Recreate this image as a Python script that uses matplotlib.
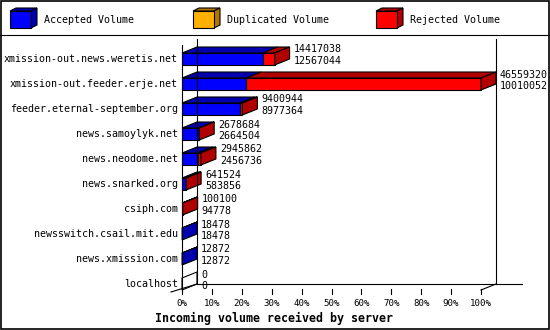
import matplotlib
matplotlib.use("Agg")
import matplotlib.pyplot as plt
from matplotlib.patches import Polygon, Rectangle
from matplotlib.lines import Line2D
from matplotlib.transforms import Affine2D

# ---------------- data ----------------
hosts = [
    "xmission-out.news.weretis.net",
    "xmission-out.feeder.erje.net",
    "feeder.eternal-september.org",
    "news.samoylyk.net",
    "news.neodome.net",
    "news.snarked.org",
    "csiph.com",
    "newsswitch.csail.mit.edu",
    "news.xmission.com",
    "localhost",
]
offered = [14417038, 46559320, 9400944, 2678684, 2945862, 641524, 100100, 18478, 12872, 0]
accepted = [12567044, 10010052, 8977364, 2664504, 2456736, 583856, 94778, 18478, 12872, 0]
duplicated = [0, 0, 0, 0, 0, 0, 0, 0, 0, 0]
tick_labels = ["0%", "10%", "20%", "30%", "40%", "50%", "60%", "70%", "80%", "90%", "100%"]
series_names = ["Accepted Volume", "Duplicated Volume", "Rejected Volume"]

# ---------------- style ----------------
FRONT = {"acc": "#0000ff", "dup": "#ffb000", "rej": "#ff0000"}
DARK = {"acc": "#0000b0", "dup": "#b07800", "rej": "#b00000"}
MONO = "DejaVu Sans Mono"
LW = 0.8

W, H = 550, 330
fig = plt.figure(figsize=(W / 100, H / 100), dpi=100)
ax = fig.add_axes([0, 0, 1, 1])
ax.axis("off")

# data scale: x in percent, y in row index
X0PX, XSCALE = 182.0, 2.99      # px of 0%, px per percent
Y0PX, YSCALE = 59.0, 25.0       # px of row 0, px per row
ax.set_xlim((0 - X0PX) / XSCALE, (W - X0PX) / XSCALE)
ax.set_ylim((H - Y0PX) / YSCALE, (0 - Y0PX) / YSCALE)

DX = 15 / XSCALE      # depth in percent units
DY = -6 / YSCALE      # depth in row units
HH = 0.24             # half bar height (rows)

pix = Affine2D().scale(1 / W, -1 / H).translate(0, 1) + fig.transFigure

def px2d(x, y):
    return ((x - X0PX) / XSCALE, (y - Y0PX) / YSCALE)

# ---------------- frame / axes ----------------
def dline(p, q, **kw):
    ax.add_line(Line2D([p[0], q[0]], [p[1], q[1]], color="black", lw=LW, **kw))

top_front = px2d(0, 45)[1]
bot_front = 9 + HH
bot_back = bot_front + DY
top_back = top_front + DY
dline((0, top_front), (0, bot_front))                 # front left axis
dline((DX, top_back), (DX, bot_back))                 # back left axis
dline((100 + DX, top_back), (100 + DX, bot_back))     # back right wall
dline((DX, bot_back), (px2d(522, 0)[0], bot_back))    # back floor line
dline((px2d(171, 0)[0], bot_front + 0.08), (DX, bot_back))  # left floor edge
dline((100, bot_front), (100 + DX, bot_back))         # right floor edge

for k, lab in enumerate(tick_labels):
    xv = k * 10
    dline((xv, bot_front - 0.04), (xv, bot_front + 0.14))
    ax.text(xv, px2d(0, 303)[1], lab, ha="center", va="center",
            fontsize=6.6, family=MONO)

ax.text(px2d(274, 0)[0], px2d(0, 318)[1], "Incoming volume received by server",
        ha="center", va="center", fontsize=8.4, family=MONO, fontweight="bold")

# ---------------- bars ----------------
vmax = max(offered)

def face(pts, fc):
    ax.add_patch(Polygon(pts, closed=True, facecolor=fc, edgecolor="black",
                         lw=LW, joinstyle="miter"))

for i, name in enumerate(hosts):
    acc = accepted[i] / vmax * 100
    dup = duplicated[i] / vmax * 100
    tot = offered[i] / vmax * 100
    segs = [("acc", 0, acc), ("dup", acc, acc + dup), ("rej", acc + dup, tot)]
    segs = [s for s in segs if s[2] - s[1] > 1e-9]
    top = i - HH
    bot = i + HH
    for key, a, b in segs:
        ax.barh(i, b - a, left=a, height=2 * HH, color=FRONT[key],
                edgecolor="black", lw=LW)
        face([(a, top), (b, top), (b + DX, top + DY), (a + DX, top + DY)], DARK[key])
    side_fc = DARK[segs[-1][0]] if segs else "white"
    face([(tot, top), (tot, bot), (tot + DX, bot + DY), (tot + DX, top + DY)], side_fc)

    ax.text(-1.34, i, name, ha="right", va="center", fontsize=7.2, family=MONO)
    tx = tot + DX + 4 / XSCALE
    ax.text(tx, i - 9.5 / YSCALE, f"{offered[i]}", ha="left", va="center",
            fontsize=7.2, family=MONO)
    ax.text(tx, i + 1.7 / YSCALE, f"{accepted[i]}", ha="left", va="center",
            fontsize=7.2, family=MONO)

# ---------------- legend (pixel space) ----------------
def ppoly(pts, fc):
    fig.patches.append(Polygon(pts, closed=True, facecolor=fc, edgecolor="black",
                               lw=LW, transform=pix, figure=fig))

leg_x = [10, 193, 376]
for (key, label, x) in zip(["acc", "dup", "rej"], series_names, leg_x):
    x1, y0, y1 = x + 21, 11, 28
    ppoly([(x, y0), (x1, y0), (x1 + 6, y0 - 3), (x + 6, y0 - 3)], DARK[key])
    ppoly([(x1, y0), (x1, y1), (x1 + 6, y1 - 3), (x1 + 6, y0 - 3)], DARK[key])
    ppoly([(x, y0), (x1, y0), (x1, y1), (x, y1)], FRONT[key])
    fig.text(x + 34, 20, label, transform=pix, ha="left", va="center",
             fontsize=7.2, family=MONO)

fig.lines.append(Line2D([0, W], [35, 35], color="black", lw=LW, transform=pix, figure=fig))
fig.patches.append(Rectangle((0.5, 0.5), W - 1.5, H - 1.5, fill=False, edgecolor="black",
                             lw=1.2, transform=pix, figure=fig))

fig.savefig("out.png", dpi=100, facecolor="white")
